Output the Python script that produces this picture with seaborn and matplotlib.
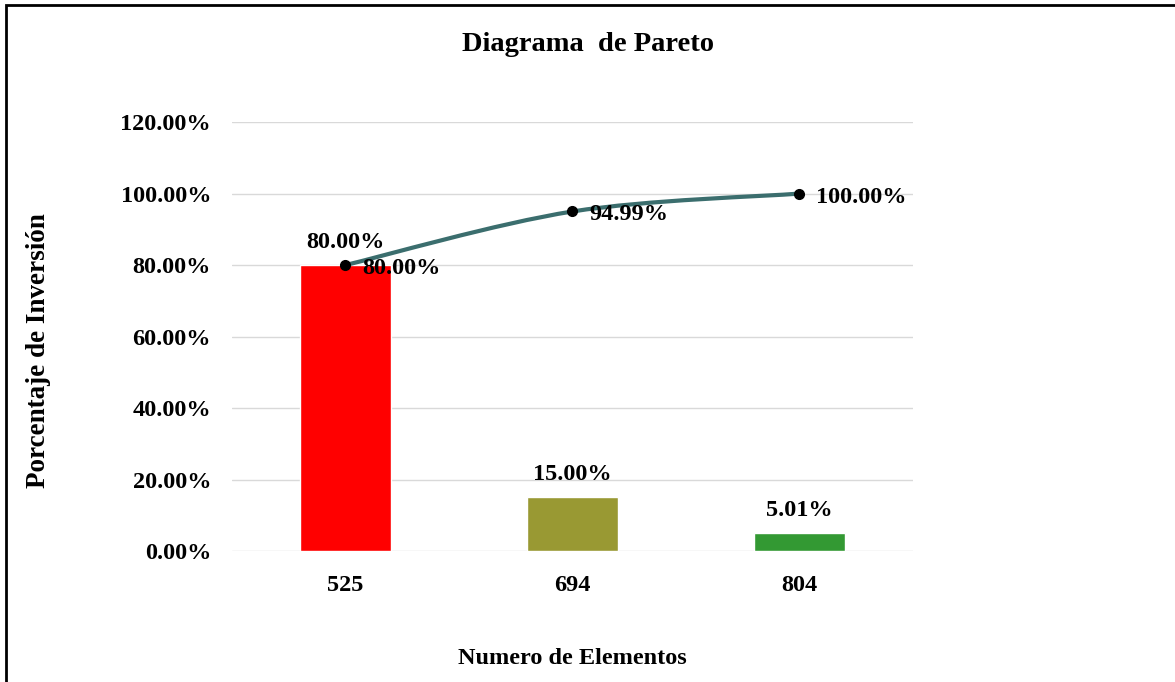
import numpy as np
import pandas as pd
import seaborn as sns
import matplotlib.pyplot as plt
from matplotlib.path import Path
from matplotlib.patches import PathPatch, Rectangle
from matplotlib.ticker import PercentFormatter

# --- data ---
elementos = ["525", "694", "804"]
porcentaje = [0.80, 0.15, 0.0501]
acumulado = [0.80, 0.9499, 1.00]
bar_labels = ["80.00%", "15.00%", "5.01%"]
line_labels = ["80.00%", "94.99%", "100.00%"]
colores = ["#FF0000", "#999933", "#339933"]

df = pd.DataFrame({"elemento": elementos, "pct": porcentaje})

sns.set_theme(style="white")
plt.rcParams["font.family"] = ["Liberation Serif", "DejaVu Serif"]
plt.rcParams["font.weight"] = "bold"
plt.rcParams["text.color"] = "black"
plt.rcParams["xtick.color"] = "black"
plt.rcParams["ytick.color"] = "black"
plt.rcParams["axes.labelcolor"] = "black"

fig = plt.figure(figsize=(11.75, 6.82), dpi=100)
ax = fig.add_axes([0.1974, 0.192, 0.5796, 0.629])

sns.barplot(data=df, x="elemento", y="pct", hue="elemento", palette=colores,
            width=0.4, legend=False, saturation=1, ax=ax)

for cont, lab in zip(ax.containers, bar_labels):
    ax.bar_label(cont, labels=[lab], padding=9, fontsize=17.5, fontweight="bold")

# smoothed cumulative line (Catmull-Rom style bezier, like Excel's smooth line)
pts = np.column_stack([np.arange(len(acumulado)), acumulado])
ext = np.vstack([pts[0], pts, pts[-1]])
verts = [tuple(pts[0])]
codes = [Path.MOVETO]
for i in range(len(pts) - 1):
    p0, p1, p2, p3 = ext[i], ext[i + 1], ext[i + 2], ext[i + 3]
    c1 = p1 + (p2 - p0) / 6
    c2 = p2 - (p3 - p1) / 6
    verts += [tuple(c1), tuple(c2), tuple(p2)]
    codes += [Path.CURVE4] * 3
ax.add_patch(PathPatch(Path(verts, codes), facecolor="none", edgecolor="#3B6E6E",
                       lw=3, zorder=3, capstyle="round"))
ax.plot(range(len(acumulado)), acumulado, linestyle="none", marker="o",
        color="black", markersize=7, zorder=4)

for i, (v, lab) in enumerate(zip(acumulado, line_labels)):
    ax.annotate(lab, (i, v), xytext=(12, -2.5), textcoords="offset points",
                ha="left", va="center", fontsize=17.5, fontweight="bold")

ax.set_xlim(-0.5, 2.5)
ax.set_ylim(0, 1.2)
ax.set_yticks(np.arange(0, 1.21, 0.2))
ax.yaxis.set_major_formatter(PercentFormatter(1.0, decimals=2))
ax.grid(axis="y", color="#D9D9D9", lw=1)
ax.set_axisbelow(True)
for s in ax.spines.values():
    s.set_visible(False)
ax.tick_params(axis="both", length=0, labelsize=17.5)
ax.tick_params(axis="y", pad=15)
ax.tick_params(axis="x", pad=17)
for t in ax.get_xticklabels() + ax.get_yticklabels():
    t.set_fontweight("bold")

ax.set_xlabel("Numero de Elementos", fontsize=17.5, fontweight="bold", labelpad=38)
ax.set_ylabel("Porcentaje de Inversión", fontsize=19.5, fontweight="bold")
ax.yaxis.set_label_coords(-0.265, 0.468)
fig.text(0.5, 0.935, "Diagrama  de Pareto", ha="center", va="center",
         fontsize=20.5, fontweight="bold")

# outer frame (top and left edges are visible in the reference)
fig.add_artist(Rectangle((0.005, -0.05), 1.1, 1.043, transform=fig.transFigure,
                         fill=False, edgecolor="black", lw=2))

fig.savefig("out.png", dpi=100)
